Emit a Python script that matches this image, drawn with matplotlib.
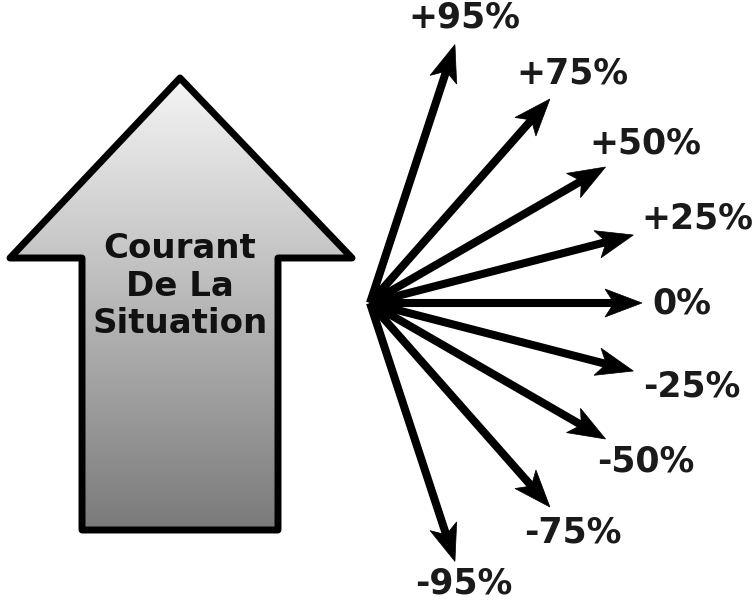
import numpy as np
import matplotlib
matplotlib.use("Agg")
import matplotlib.pyplot as plt
from matplotlib.patches import Polygon
from matplotlib.colors import LinearSegmentedColormap

# fan of arrows: percentage -> direction (angle = arcsin(p))
percents = [95, 75, 50, 25, 0, -25, -50, -75, -95]
labels = ["+95%", "+75%", "+50%", "+25%", "0%", "-25%", "-50%", "-75%", "-95%"]
center_text = "Courant\nDe La\nSituation"

fig = plt.figure(figsize=(7.55, 6.01), dpi=100)
ax = fig.add_axes([0, 0, 1, 1])

# big up arrow (pixel units, y down)
big = [(180, 78), (352, 258), (278, 258), (278, 530), (82, 530), (82, 258), (10, 258)]
poly = Polygon(big, closed=True, facecolor="none", edgecolor="black",
               lw=5, joinstyle="round", zorder=3)
ax.add_patch(poly)
cmap = LinearSegmentedColormap.from_list("g", ["#f5f5f5", "#7a7a7a"])
img = ax.imshow(np.linspace(0, 1, 256).reshape(-1, 1), cmap=cmap, aspect="auto",
                extent=(10, 352, 530, 78), zorder=1)
img.set_clip_path(poly)
ax.text(180, 286, center_text, ha="center", va="center", fontsize=24.5,
        fontweight="bold", color="#111111", linespacing=1.17, zorder=4)

# fan
ox, oy = 370, 303
L = 272
head_len, head_hw, notch = 37, 14, 9
fig.canvas.draw()
renderer = fig.canvas.get_renderer()
for p, lab in zip(percents, labels):
    a = np.arcsin(p / 100)
    c, s = np.cos(a), -np.sin(a)
    nx, ny = -s, c
    tip = np.array([ox + L * c, oy + L * s])
    base = tip - head_len * np.array([c, s])
    inner = tip - (head_len - notch) * np.array([c, s])
    ax.plot([ox, inner[0]], [oy, inner[1]], color="black", lw=5.8,
            solid_capstyle="butt", zorder=5)
    head = [tip, base + head_hw * np.array([nx, ny]), inner,
            base - head_hw * np.array([nx, ny])]
    ax.add_patch(Polygon(head, closed=True, facecolor="black", edgecolor="black",
                         lw=0.5, zorder=6))
    t = ax.text(0, 0, lab, ha="center", va="center", fontsize=25,
                fontweight="bold", color="#1a1a1a")
    bb = t.get_window_extent(renderer)
    hw, hh = bb.width / 2, 18
    ext = min(hw / abs(c) if abs(c) > 1e-6 else 1e9,
              hh / abs(s) if abs(s) > 1e-6 else 1e9)
    r = L + 10 + ext
    x, y = ox + r * c, oy + r * s
    # keep the text box inside the canvas
    y = min(max(y, bb.height / 2 + 1), 601 - bb.height / 2 - 1)
    x = min(x, 755 - hw - 2)
    t.set_position((x, y))

ax.set_xlim(0, 755)
ax.set_ylim(601, 0)
ax.axis("off")
fig.savefig("out.png", dpi=100, facecolor="white")
